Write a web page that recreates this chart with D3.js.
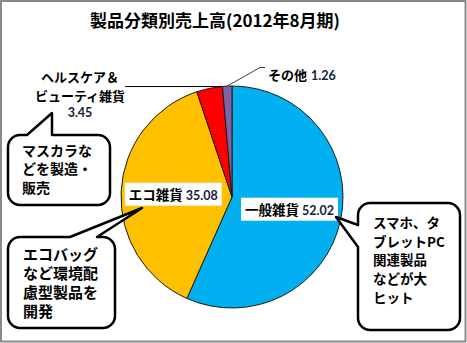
<!DOCTYPE html>
<html lang="ja">
<head>
<meta charset="utf-8">
<script src="https://cdn.jsdelivr.net/npm/d3@7"></script>
<style>
  html, body { margin: 0; padding: 0; background: #fff; }
  svg { display: block; }
  .jp { font-family: "Noto Sans CJK JP", "Noto Sans", sans-serif; }
  .num { font-family: Lato, "Open Sans", sans-serif; }
</style>
</head>
<body>
<svg id="chart" width="467" height="343"></svg>
<script>
// Sales by product category, FY ending Aug 2012
const categories = ["一般雑貨", "エコ雑貨", "ヘルスケア＆ビューティ雑貨", "その他"];
const values = [52.02, 35.08, 3.45, 1.26];
const colors = ["#00B0F0", "#FFC000", "#FF0000", "#8064A2"];
const title = "製品分類別売上高(2012年8月期)";
const notes = [
  ["マスカラな", "どを製造・", "販売"],
  ["エコバッグ", "など環境配", "慮型製品を", "開発"],
  ["スマホ、タ", "ブレットPC", "関連製品", "などが大", "ヒット"]
];

const W = 467, H = 343;
const svg = d3.select("#chart");

// outer frame
svg.append("rect")
  .attr("x", 1).attr("y", 1).attr("width", W - 2.5).attr("height", H - 2.5)
  .attr("fill", "#fff").attr("stroke", "#898989").attr("stroke-width", 2);

// title
svg.append("text").attr("class", "jp")
  .attr("x", 215).attr("y", 27)
  .attr("text-anchor", "middle")
  .attr("font-size", 17).attr("font-weight", 700)
  .text(title);

// pie
const cx = 232, cy = 197, R = 111;
const g = svg.append("g").attr("transform", `translate(${cx},${cy})`);
const pie = d3.pie().sort(null).value(d => d)(values);
const arc = d3.arc().innerRadius(0).outerRadius(R);
const labelArc = d3.arc().innerRadius(R * 0.53).outerRadius(R * 0.53);

g.selectAll("path.slice").data(pie).join("path")
  .attr("class", "slice")
  .attr("d", arc)
  .attr("fill", (d, i) => colors[i])
  .attr("stroke", "#1a1a1a").attr("stroke-width", 1);

// point on pie rim at a given angle (radians, clockwise from top)
const rim = (a, r = R) => [cx + r * Math.sin(a), cy - r * Math.cos(a)];

// inside labels with white boxes (large slices)
function insideLabel(i, jpSize, numSize) {
  const [lx, ly] = labelArc.centroid(pie[i]);
  const lg = svg.append("g").attr("transform", `translate(${cx + lx},${cy + ly})`);
  const bg = lg.append("rect").attr("fill", "#fff");
  const t = lg.append("text").attr("text-anchor", "middle").attr("dy", "0.36em");
  t.append("tspan").attr("class", "jp").attr("font-size", jpSize).attr("font-weight", 700)
    .attr("fill", "#000").text(categories[i]);
  t.append("tspan").attr("class", "num").attr("font-size", numSize).attr("font-weight", 700)
    .attr("fill", "#16203c").attr("dx", 3).text(values[i].toFixed(2));
  const b = t.node().getBBox();
  bg.attr("x", b.x - 4).attr("y", -11.5).attr("width", b.width + 8).attr("height", 23);
}
insideLabel(0, 13.5, 12.5);
insideLabel(1, 13.5, 12.5);

// outside label: health & beauty
const redEnd = rim(pie[2].startAngle + (pie[2].endAngle - pie[2].startAngle) * 0.95);
svg.append("path")
  .attr("d", d3.line()([[125, redEnd[1]], redEnd]))
  .attr("stroke", "#000").attr("stroke-width", 1).attr("fill", "none");
const hb = svg.append("text").attr("text-anchor", "middle");
hb.append("tspan").attr("class", "jp").attr("x", 80).attr("y", 82)
  .attr("font-size", 13).attr("font-weight", 700).text("ヘルスケア＆");
hb.append("tspan").attr("class", "jp").attr("x", 80).attr("y", 100.5)
  .attr("font-size", 13).attr("font-weight", 700).text("ビューティ雑貨");
hb.append("tspan").attr("class", "num").attr("x", 80).attr("y", 116.5)
  .attr("font-size", 12.5).attr("font-weight", 700).attr("fill", "#16203c")
  .text(values[2].toFixed(2));

// outside label: others
const purpleMid = rim((pie[3].startAngle + pie[3].endAngle) / 2);
svg.append("path")
  .attr("d", d3.line()([purpleMid, [260, 67.5], [265, 67.5]]))
  .attr("stroke", "#404040").attr("stroke-width", 1).attr("fill", "none");
const ot = svg.append("text").attr("x", 268).attr("y", 80);
ot.append("tspan").attr("class", "jp").attr("font-size", 13).attr("font-weight", 700)
  .text(categories[3]);
ot.append("tspan").attr("class", "num").attr("font-size", 12.5).attr("font-weight", 700)
  .attr("fill", "#16203c").attr("dx", 4).text(values[3].toFixed(2));

// speech-bubble callouts
function bubble(x, y, w, h, r, side, b1, b2, tip) {
  const p = d3.path();
  p.moveTo(x + r, y);
  if (side === "top") { p.lineTo(b1, y); p.lineTo(tip[0], tip[1]); p.lineTo(b2, y); }
  p.lineTo(x + w - r, y);
  p.arcTo(x + w, y, x + w, y + r, r);
  p.lineTo(x + w, y + h - r);
  p.arcTo(x + w, y + h, x + w - r, y + h, r);
  p.lineTo(x + r, y + h);
  p.arcTo(x, y + h, x, y + h - r, r);
  if (side === "left") { p.lineTo(x, b2); p.lineTo(tip[0], tip[1]); p.lineTo(x, b1); }
  p.lineTo(x, y + r);
  p.arcTo(x, y, x + r, y, r);
  p.closePath();
  svg.append("path").attr("d", p.toString())
    .attr("fill", "#fff").attr("stroke", "#000").attr("stroke-width", 2.5)
    .attr("stroke-linejoin", "round");
}
function noteText(lines, x, y0, step, size) {
  const t = svg.append("text").attr("class", "jp")
    .attr("font-size", size).attr("font-weight", 700);
  lines.forEach((s, i) => t.append("tspan").attr("x", x).attr("y", y0 + i * step).text(s));
}

bubble(8, 135, 102, 70, 12, "top", 27, 52, [52, 113]);
noteText(notes[0], 22, 155.5, 18.5, 14);

bubble(8, 237, 107, 91, 12, "top", 70, 97, [142, 208]);
noteText(notes[1], 23, 259.5, 19, 15);

bubble(358, 203, 102, 127, 12, "left", 225, 247, [336, 217]);
noteText(notes[2], 373, 228, 18.7, 13.5);
</script>
</body>
</html>
